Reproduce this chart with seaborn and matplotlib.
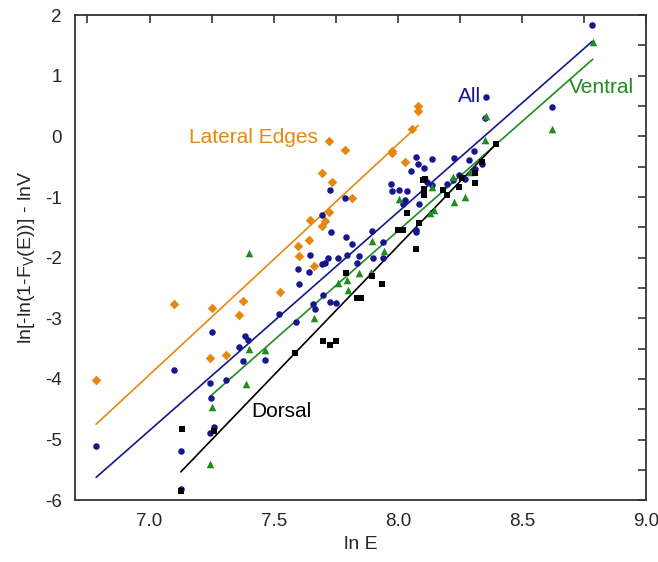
import numpy as np
import pandas as pd
import seaborn as sns
from matplotlib import pyplot as plt

# data (x = ln E, y = ln[-ln(1-Fv(E))] - lnV)
lat_x = [6.785, 7.10, 7.252, 7.378, 7.36, 7.525, 7.244, 7.31, 7.598, 7.602, 7.642, 7.648, 7.661,
         7.694, 7.708, 7.723, 7.696, 7.734, 7.724, 7.787, 7.817, 7.975, 7.975, 8.03, 8.056, 8.08, 8.082]
lat_y = [-4.02, -2.76, -2.83, -2.71, -2.95, -2.57, -3.66, -3.61, -1.81, -1.97, -1.71, -1.38, -2.13,
         -1.47, -1.39, -1.24, -0.60, -0.75, -0.07, -0.22, -1.02, -0.24, -0.28, -0.43, 0.12, 0.42, 0.50]

all_x = [6.785, 7.097, 7.128, 7.126, 7.244, 7.248, 7.244, 7.259, 7.25, 7.31, 7.36, 7.383, 7.397,
         7.378, 7.467, 7.523, 7.588, 7.60, 7.598, 7.642, 7.645, 7.657, 7.668, 7.70, 7.727, 7.75,
         7.694, 7.707, 7.72, 7.758, 7.794, 7.845, 7.836, 7.731, 7.792, 7.817, 7.695, 7.726, 7.788,
         7.897, 7.94, 7.90, 7.94, 7.973, 7.978, 8.005, 8.037, 8.03, 8.02, 8.073, 8.073, 8.087,
         8.073, 8.08, 8.055, 8.105, 8.137, 8.105, 8.116, 8.137, 8.20, 8.223, 8.247, 8.27, 8.226,
         8.288, 8.306, 8.31, 8.34, 8.35, 8.357, 8.62, 8.783]
all_y = [-5.11, -3.86, -5.19, -5.81, -4.06, -4.32, -4.90, -4.79, -3.23, -4.02, -3.47, -3.29, -3.35,
         -3.71, -3.68, -2.93, -3.06, -2.43, -2.18, -2.23, -1.96, -2.77, -2.85, -2.62, -2.73, -2.75,
         -2.11, -2.09, -2.00, -2.00, -1.96, -1.98, -2.08, -1.57, -1.66, -1.78, -1.29, -0.89, -1.02,
         -1.56, -1.74, -2.00, -2.00, -0.79, -0.90, -0.89, -0.90, -1.05, -1.12, -1.54, -1.58, -1.12,
         -0.34, -0.46, -0.57, -0.52, -0.38, -0.71, -0.75, -0.80, -0.78, -0.72, -0.63, -0.71, -0.35,
         -0.39, -0.24, -0.53, -0.45, 0.31, 0.65, 0.48, 1.83]

ven_x = [7.244, 7.252, 7.39, 7.40, 7.467, 7.40, 7.664, 7.758, 7.795, 7.80, 7.843, 7.893, 7.897,
         7.943, 8.005, 8.13, 8.144, 8.137, 8.226, 8.27, 8.223, 8.29, 8.35, 8.357, 8.62, 8.785]
ven_y = [-5.41, -4.46, -4.09, -3.51, -3.53, -1.93, -2.99, -2.42, -2.36, -2.53, -2.25, -2.24, -1.72,
         -1.89, -1.03, -1.26, -1.21, -0.83, -1.08, -1.00, -0.67, -0.59, -0.06, 0.33, 0.12, 1.55]

dor_x = [7.126, 7.13, 7.26, 7.587, 7.70, 7.727, 7.75, 7.79, 7.836, 7.85, 7.897, 7.938, 8.0, 8.02,
         8.037, 8.087, 8.073, 8.105, 8.105, 8.10, 8.11, 8.18, 8.20, 8.245, 8.26, 8.31, 8.31, 8.34, 8.395]
dor_y = [-5.85, -4.83, -4.86, -3.57, -3.37, -3.44, -3.37, -2.26, -2.66, -2.66, -2.31, -2.44, -1.54,
         -1.55, -1.27, -1.43, -1.86, -0.96, -0.86, -0.72, -0.70, -0.88, -0.96, -0.83, -0.69, -0.77,
         -0.60, -0.43, -0.12]

# linear fits (slope, intercept)
fit_lat = (3.80, -30.53)
fit_all = (3.60, -30.05)
fit_ven = (3.61, -30.44)
fit_dor = (4.26, -35.89)

c_lat = '#E8870E'
c_all = '#16168F'
c_ven = '#1E8C1E'
c_dor = '#000000'

sns.set_style('white')
plt.rcParams['font.family'] = ['Liberation Sans', 'DejaVu Sans']
plt.rcParams['axes.unicode_minus'] = False
plt.rcParams['mathtext.fontset'] = 'custom'
plt.rcParams['mathtext.rm'] = 'Liberation Sans'
plt.rcParams['mathtext.it'] = 'Liberation Sans'

fig = plt.figure(figsize=(6.58, 5.62), dpi=100)
ax = fig.add_axes([0.114, 0.110, 0.868, 0.863])

series = [
    (lat_x, lat_y, fit_lat, c_lat, 'D', 24),
    (all_x, all_y, fit_all, c_all, 'o', 22),
    (ven_x, ven_y, fit_ven, c_ven, '^', 30),
    (dor_x, dor_y, fit_dor, c_dor, 's', 16),
]
for xs, ys, (k, b), col, mk, sz in series:
    sns.scatterplot(x=xs, y=ys, ax=ax, color=col, marker=mk, s=sz, linewidth=0, zorder=3)
    lx = np.array([min(xs), max(xs)])
    sns.lineplot(x=lx, y=k * lx + b, ax=ax, color=col, linewidth=1.2, zorder=2)

ax.text(7.16, -0.01, 'Lateral Edges', color=c_lat, fontsize=15, va='center')
ax.text(8.242, 0.66, 'All', color=c_all, fontsize=15, va='center')
ax.text(8.69, 0.81, 'Ventral', color=c_ven, fontsize=15, va='center')
ax.text(7.411, -4.54, 'Dorsal', color=c_dor, fontsize=15, va='center')

ax.set_xlim(6.7, 9.0)
ax.set_ylim(-6, 2)
ax.set_xticks([7.0, 7.5, 8.0, 8.5, 9.0])
ax.set_xticks([6.75, 7.25, 7.75, 8.25, 8.75], minor=True)
ax.set_yticks(range(-6, 3))
ax.set_yticks(np.arange(-5.5, 2, 1.0), minor=True)
ax.set_xticklabels(['7.0', '7.5', '8.0', '8.5', '9.0'])

ax.set_xlabel('ln E', fontsize=14, labelpad=4)
ax.set_ylabel(r'ln[-ln(1-F$_\mathrm{V}$(E))] - lnV', fontsize=14, labelpad=6)

for sp in ax.spines.values():
    sp.set_color('#333333')
    sp.set_linewidth(1.3)
ax.tick_params(which='both', direction='out', length=6, width=1.2, color='#333333',
               labelsize=13.5, top=False, right=False)
sec = [ax.secondary_xaxis('top'), ax.secondary_yaxis('right')]
for s in sec:
    s.tick_params(which='both', direction='in', length=6, width=1.2, color='#333333',
                  labelleft=False, labelright=False, labeltop=False, labelbottom=False)
    for sp in s.spines.values():
        sp.set_visible(False)
sec[0].set_xticks([7.0, 7.5, 8.0, 8.5, 9.0])
sec[0].set_xticks([6.75, 7.25, 7.75, 8.25, 8.75], minor=True)
sec[1].set_yticks(range(-6, 3))
sec[1].set_yticks(np.arange(-5.5, 2, 1.0), minor=True)

fig.savefig('out.png', dpi=100)
